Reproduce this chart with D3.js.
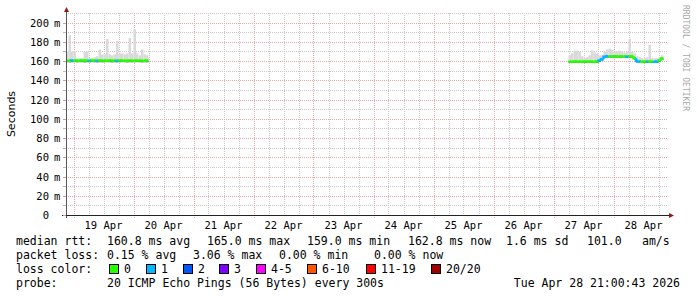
<!DOCTYPE html>
<html>
<head>
<meta charset="utf-8">
<script src="https://cdn.jsdelivr.net/npm/d3@7"></script>
<style>
  body { margin: 0; background: #fff; }
  svg { display: block; }
  text { font-family: "DejaVu Sans Mono", monospace; fill: #000; }
</style>
</head>
<body>
<div id="chart"></div>
<script>
var width = 697
var height = 297

// time window of the graph (local time)
var tStart = new Date(2026, 3, 18, 21, 0)
var tEnd = new Date(2026, 3, 28, 21, 0)

// hourly data, segment 1 starts 18 Apr 21:00, segment 2 starts 27 Apr 06:00
var seg1Start = new Date(2026, 3, 18, 21, 0)
var seg1Median = [160.6, 160.4, 160.5, 160.5, 160.6, 160.4, 160.5, 160.6, 160.5, 160.4, 160.5, 160.6,
    160.4, 160.5, 160.6, 160.5, 160.4, 160.5, 160.6, 160.5, 160.4, 160.5, 160.6, 160.5, 160.4, 160.6,
    160.5, 160.4, 160.6, 160.5, 160.5, 160.4, 160.6]
var seg1Max = [170, 187, 170, 170, 163, 163, 163, 170, 170, 163, 163, 164, 165, 172, 167, 167, 183,
    167, 166, 167, 181, 168, 168, 167, 168, 184, 168, 193, 168, 166, 172, 167, 166]
var seg1Min = [158.8, 158.6, 158.8, 158.9, 158.7, 158.8, 158.8, 158.6, 158.8, 158.7, 158.9, 158.8,
    158.6, 158.8, 158.7, 158.8, 158.9, 158.8, 158.6, 158.8, 158.7, 158.8, 158.9, 158.8, 158.6, 158.8,
    158.7, 158.8, 158.9, 158.8, 158.6, 158.8, 158.7]
var seg1Loss = [0, 0, 1, 0, 0, 0, 0, 0, 0, 1, 0, 0, 1, 0, 0, 0, 0, 0, 0, 0, 1, 0, 0, 0, 0, 0, 0, 0,
    0, 0, 0, 0, 0]

var seg2Start = new Date(2026, 3, 27, 6, 0)
var seg2Median = [159.5, 159.4, 159.5, 159.6, 159.5, 159.4, 159.5, 159.5, 159.6, 159.5, 159.4, 159.5,
    160.5, 162.0, 164.5, 165.0, 165.0, 164.9, 165.0, 165.0, 164.8, 165.0, 165.0, 164.9, 165.0, 165.0,
    163.0, 160.0, 159.5, 159.4, 159.5, 159.5, 159.6, 159.5, 159.4, 159.5, 160.5, 162.8]
var seg2Max = [166, 168, 171, 171, 170, 165, 163, 164, 166, 171, 169, 168, 166, 166, 170, 172, 173,
    172, 170, 170, 171, 170, 169, 170, 183, 170, 168, 165, 164, 163, 163, 164, 177, 163, 163, 163, 164, 166]
var seg2Min = [158.0, 157.9, 158.0, 158.1, 158.0, 157.9, 158.0, 158.0, 158.1, 158.0, 157.9, 158.0,
    159.0, 160.5, 163.0, 163.5, 163.5, 163.4, 163.5, 163.5, 163.3, 163.5, 163.5, 163.4, 163.5, 163.5,
    161.5, 158.5, 158.0, 157.9, 158.0, 158.0, 158.1, 158.0, 157.9, 158.0, 159.0, 161.3]
var seg2Loss = [0, 0, 0, 0, 0, 0, 0, 0, 0, 0, 0, 0, 1, 1, 1, 1, 0, 0, 0, 0, 0, 0, 0, 1, 0, 0, 0, 1,
    1, 0, 0, 1, 0, 0, 1, 1, 0, 0]

var yTicks = [0, 20, 40, 60, 80, 100, 120, 140, 160, 180, 200]

var lossLabels = ['0', '1', '2', '3', '4-5', '6-10', '11-19', '20/20']
var lossColors = ['#26ff00', '#00b8ff', '#0059ff', '#7e00ff', '#ff00ff', '#ff5500', '#ff0000', '#a10000']

var statsLines = [
    ['median rtt:', '160.8 ms avg', '165.0 ms max', '159.0 ms min', '162.8 ms now', '1.6 ms sd', '101.0', 'am/s'],
    ['packet loss:', '0.15 % avg', '3.06 % max', '0.00 % min', '0.00 % now']
]
var probeText = '20 ICMP Echo Pings (56 Bytes) every 300s'
var stampText = 'Tue Apr 28 21:00:43 2026'

// layout
var plotLeft = 66, plotRight = 666, plotTop = 13, plotBottom = 215

var svg = d3.select('#chart').append('svg')
    .attr('width', width)
    .attr('height', height)

var x = d3.scaleTime().domain([tStart, tEnd]).range([plotLeft, plotRight])
var y = d3.scaleLinear().domain([0, 210]).range([plotBottom, plotTop])

function py(v) { return Math.round(y(v)) + 0.5 }
function px(t) { return Math.round(x(t)) + 0.5 }

// grid
var grid = svg.append('g')
var minorY = d3.range(10, 211, 20)
grid.selectAll('.hmin').data(minorY).enter().append('line')
    .attr('x1', plotLeft).attr('x2', plotRight + 2)
    .attr('y1', py).attr('y2', py)
    .attr('stroke', '#c8c8c8').attr('stroke-dasharray', '1,1')

var minorX = d3.timeHour.every(6).range(tStart, tEnd).filter(function(d) { return d.getHours() !== 0 })
grid.selectAll('.vmin').data(minorX).enter().append('line')
    .attr('x1', px).attr('x2', px)
    .attr('y1', plotTop).attr('y2', plotBottom)
    .attr('stroke', '#c8c8c8').attr('stroke-dasharray', '1,1')

grid.selectAll('.hmaj').data(yTicks.slice(1)).enter().append('line')
    .attr('x1', plotLeft).attr('x2', plotRight + 2)
    .attr('y1', py).attr('y2', py)
    .attr('stroke', '#e4a8a8').attr('stroke-dasharray', '1,1')

var days = d3.timeDay.range(tStart, tEnd)
grid.selectAll('.vmaj').data(days).enter().append('line')
    .attr('x1', px).attr('x2', px)
    .attr('y1', plotTop).attr('y2', plotBottom + 3)
    .attr('stroke', '#e4a8a8').attr('stroke-dasharray', '1,1')

// data
function build(start, med, max, min, loss) {
    return med.map(function(m, i) {
        return {
            t0: d3.timeHour.offset(start, i),
            t1: d3.timeHour.offset(start, i + 1),
            med: m, max: max[i], min: min[i], loss: loss[i],
            prev: i > 0 ? med[i - 1] : m
        }
    })
}
var points = build(seg1Start, seg1Median, seg1Max, seg1Min, seg1Loss)
    .concat(build(seg2Start, seg2Median, seg2Max, seg2Min, seg2Loss))

var plot = svg.append('g')
plot.selectAll('.smoke').data(points).enter().append('rect')
    .attr('x', function(d) { return x(d.t0) })
    .attr('width', function(d) { return x(d.t1) - x(d.t0) })
    .attr('y', function(d) { return y(d.max) })
    .attr('height', function(d) { return y(d.med) - y(d.max) })
    .attr('fill', '#d9d9d9')

plot.selectAll('.smokeLow').data(points).enter().append('rect')
    .attr('x', function(d) { return x(d.t0) })
    .attr('width', function(d) { return x(d.t1) - x(d.t0) })
    .attr('y', function(d) { return y(d.med) })
    .attr('height', function(d) { return y(d.min) - y(d.med) })
    .attr('fill', '#6e6e6e')

plot.selectAll('.median').data(points).enter().append('path')
    .attr('d', function(d) {
        return 'M' + x(d.t0) + ',' + y(d.prev) + 'V' + y(d.med) + 'H' + x(d.t1) })
    .attr('fill', 'none')
    .attr('stroke', function(d) { return lossColors[d.loss] })
    .attr('stroke-width', 2.5)

// axes
svg.append('line').attr('x1', plotLeft + 0.5).attr('x2', plotLeft + 0.5)
    .attr('y1', plotBottom + 3).attr('y2', plotTop - 2)
    .attr('stroke', '#555')
svg.append('path').attr('d', 'M' + (plotLeft - 2) + ',' + (plotTop - 1) + 'L' + (plotLeft + 0.5) + ',' + (plotTop - 6) +
        'L' + (plotLeft + 3) + ',' + (plotTop - 1) + 'Z')
    .attr('fill', '#8b1a1a')
svg.append('line').attr('x1', plotLeft - 4).attr('x2', plotRight + 4)
    .attr('y1', plotBottom + 0.5).attr('y2', plotBottom + 0.5)
    .attr('stroke', '#222')
svg.append('path').attr('d', 'M' + (plotRight + 3) + ',' + (plotBottom - 2) + 'L' + (plotRight + 8) + ',' + (plotBottom + 0.5) +
        'L' + (plotRight + 3) + ',' + (plotBottom + 3) + 'Z')
    .attr('fill', '#8b1a1a')

svg.selectAll('.ytick').data(d3.range(0, 201, 10)).enter().append('line')
    .attr('x1', plotLeft - 3).attr('x2', plotLeft)
    .attr('y1', py).attr('y2', py)
    .attr('stroke', function(d) { return d % 20 ? '#bbb' : '#d99' })

var ylab = svg.append('g').style('font-size', '10.5px')
ylab.selectAll('.yn').data(yTicks).enter().append('text')
    .attr('x', 49).attr('y', function(d) { return y(d) + 4 })
    .attr('text-anchor', 'end')
    .text(function(d) { return d })
ylab.selectAll('.ym').data(yTicks.slice(1)).enter().append('text')
    .attr('x', 54).attr('y', function(d) { return y(d) + 4 })
    .text('m')

var fmt = d3.timeFormat('%d %b')
svg.append('g').style('font-size', '10.5px')
    .selectAll('text').data(days).enter().append('text')
    .attr('x', function(d) { return x(d3.timeHour.offset(d, 12)) })
    .attr('y', 229)
    .attr('text-anchor', 'middle')
    .text(function(d) { return fmt(d) })

svg.append('text')
    .attr('transform', 'translate(15,114) rotate(-90)')
    .attr('text-anchor', 'middle')
    .style('font-family', '"DejaVu Sans", sans-serif')
    .style('font-size', '11px')
    .text('Seconds')

svg.append('text')
    .attr('transform', 'translate(683,5) rotate(90)')
    .style('font-size', '8px')
    .style('fill', '#a8a8a8')
    .text('RRDTOOL / TOBI OETIKER')

// legend
var legend = svg.append('g').style('font-size', '11.5px')
var statsX = [
    [16, 107, 207, 307, 408, 506, 587, 642],
    [16, 107, 193, 279, 374]
]
statsLines.forEach(function(line, r) {
    legend.selectAll('.s' + r).data(line).enter().append('text')
        .attr('x', function(d, i) { return statsX[r][i] })
        .attr('y', 245 + r * 14)
        .text(function(d) { return d })
})

legend.append('text').attr('x', 16).attr('y', 273).text('loss color:')
var boxX = [109, 146, 183, 219, 256, 307, 366, 431]
legend.selectAll('.box').data(lossColors).enter().append('rect')
    .attr('x', function(d, i) { return boxX[i] + 0.5 })
    .attr('y', 264.5)
    .attr('width', 9).attr('height', 9)
    .attr('fill', function(d) { return d })
    .attr('stroke', '#000')
legend.selectAll('.bl').data(lossLabels).enter().append('text')
    .attr('x', function(d, i) { return boxX[i] + 15 })
    .attr('y', 273)
    .text(function(d) { return d })

legend.append('text').attr('x', 16).attr('y', 287).text('probe:')
legend.append('text').attr('x', 107).attr('y', 287).text(probeText)
legend.append('text').attr('x', 680).attr('y', 287).attr('text-anchor', 'end').text(stampText)
</script>
</body>
</html>
